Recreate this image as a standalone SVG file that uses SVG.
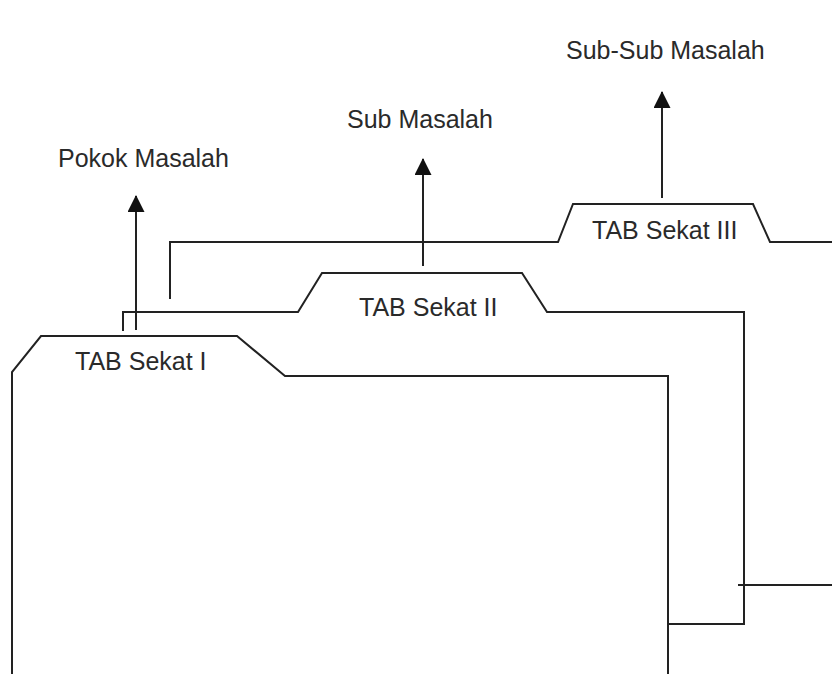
<svg xmlns="http://www.w3.org/2000/svg" width="832" height="674" viewBox="0 0 832 674">
<defs>
<style>
.ln{fill:none;stroke:#222;stroke-width:2;stroke-linejoin:miter}
.lb{font-family:"Liberation Sans",Arial,sans-serif;font-size:25px;fill:#2a2a2a}
</style>
<marker id="arr" markerUnits="userSpaceOnUse" markerWidth="17" markerHeight="17" viewBox="0 0 17 17" refX="16" refY="8.5" orient="auto">
<path d="M0,0 L17,8.5 L0,17 Z" fill="#111"/>
</marker>
</defs>
<rect width="832" height="674" fill="#fff"/>
<g id="connectors">
<path class="ln" d="M136,330 V196" marker-end="url(#arr)"/>
<path class="ln" d="M423,266 V159" marker-end="url(#arr)"/>
<path class="ln" d="M662,198 V92" marker-end="url(#arr)"/>
</g>
<g id="tab3">
<path class="ln" d="M170,299 V242 H558 L573,204 H753 L770,242 H832"/>
<path class="ln" d="M738,585 H832"/>
<text class="lb" x="592" y="239">TAB Sekat III</text>
</g>
<g id="tab2">
<path class="ln" d="M123,331 V312 H298 L322,273 H522 L547,312 H744 V624 H668"/>
<text class="lb" x="359" y="316">TAB Sekat II</text>
</g>
<g id="tab1">
<path class="ln" d="M12,674 V372 L41,336 H237 L285,376 H668 V674"/>
<text class="lb" x="75" y="370">TAB Sekat I</text>
</g>
<g id="label-pokok"><text class="lb" x="58" y="167">Pokok Masalah</text></g>
<g id="label-sub"><text class="lb" x="347" y="128">Sub Masalah</text></g>
<g id="label-subsub"><text class="lb" x="566" y="59">Sub-Sub Masalah</text></g>
</svg>
